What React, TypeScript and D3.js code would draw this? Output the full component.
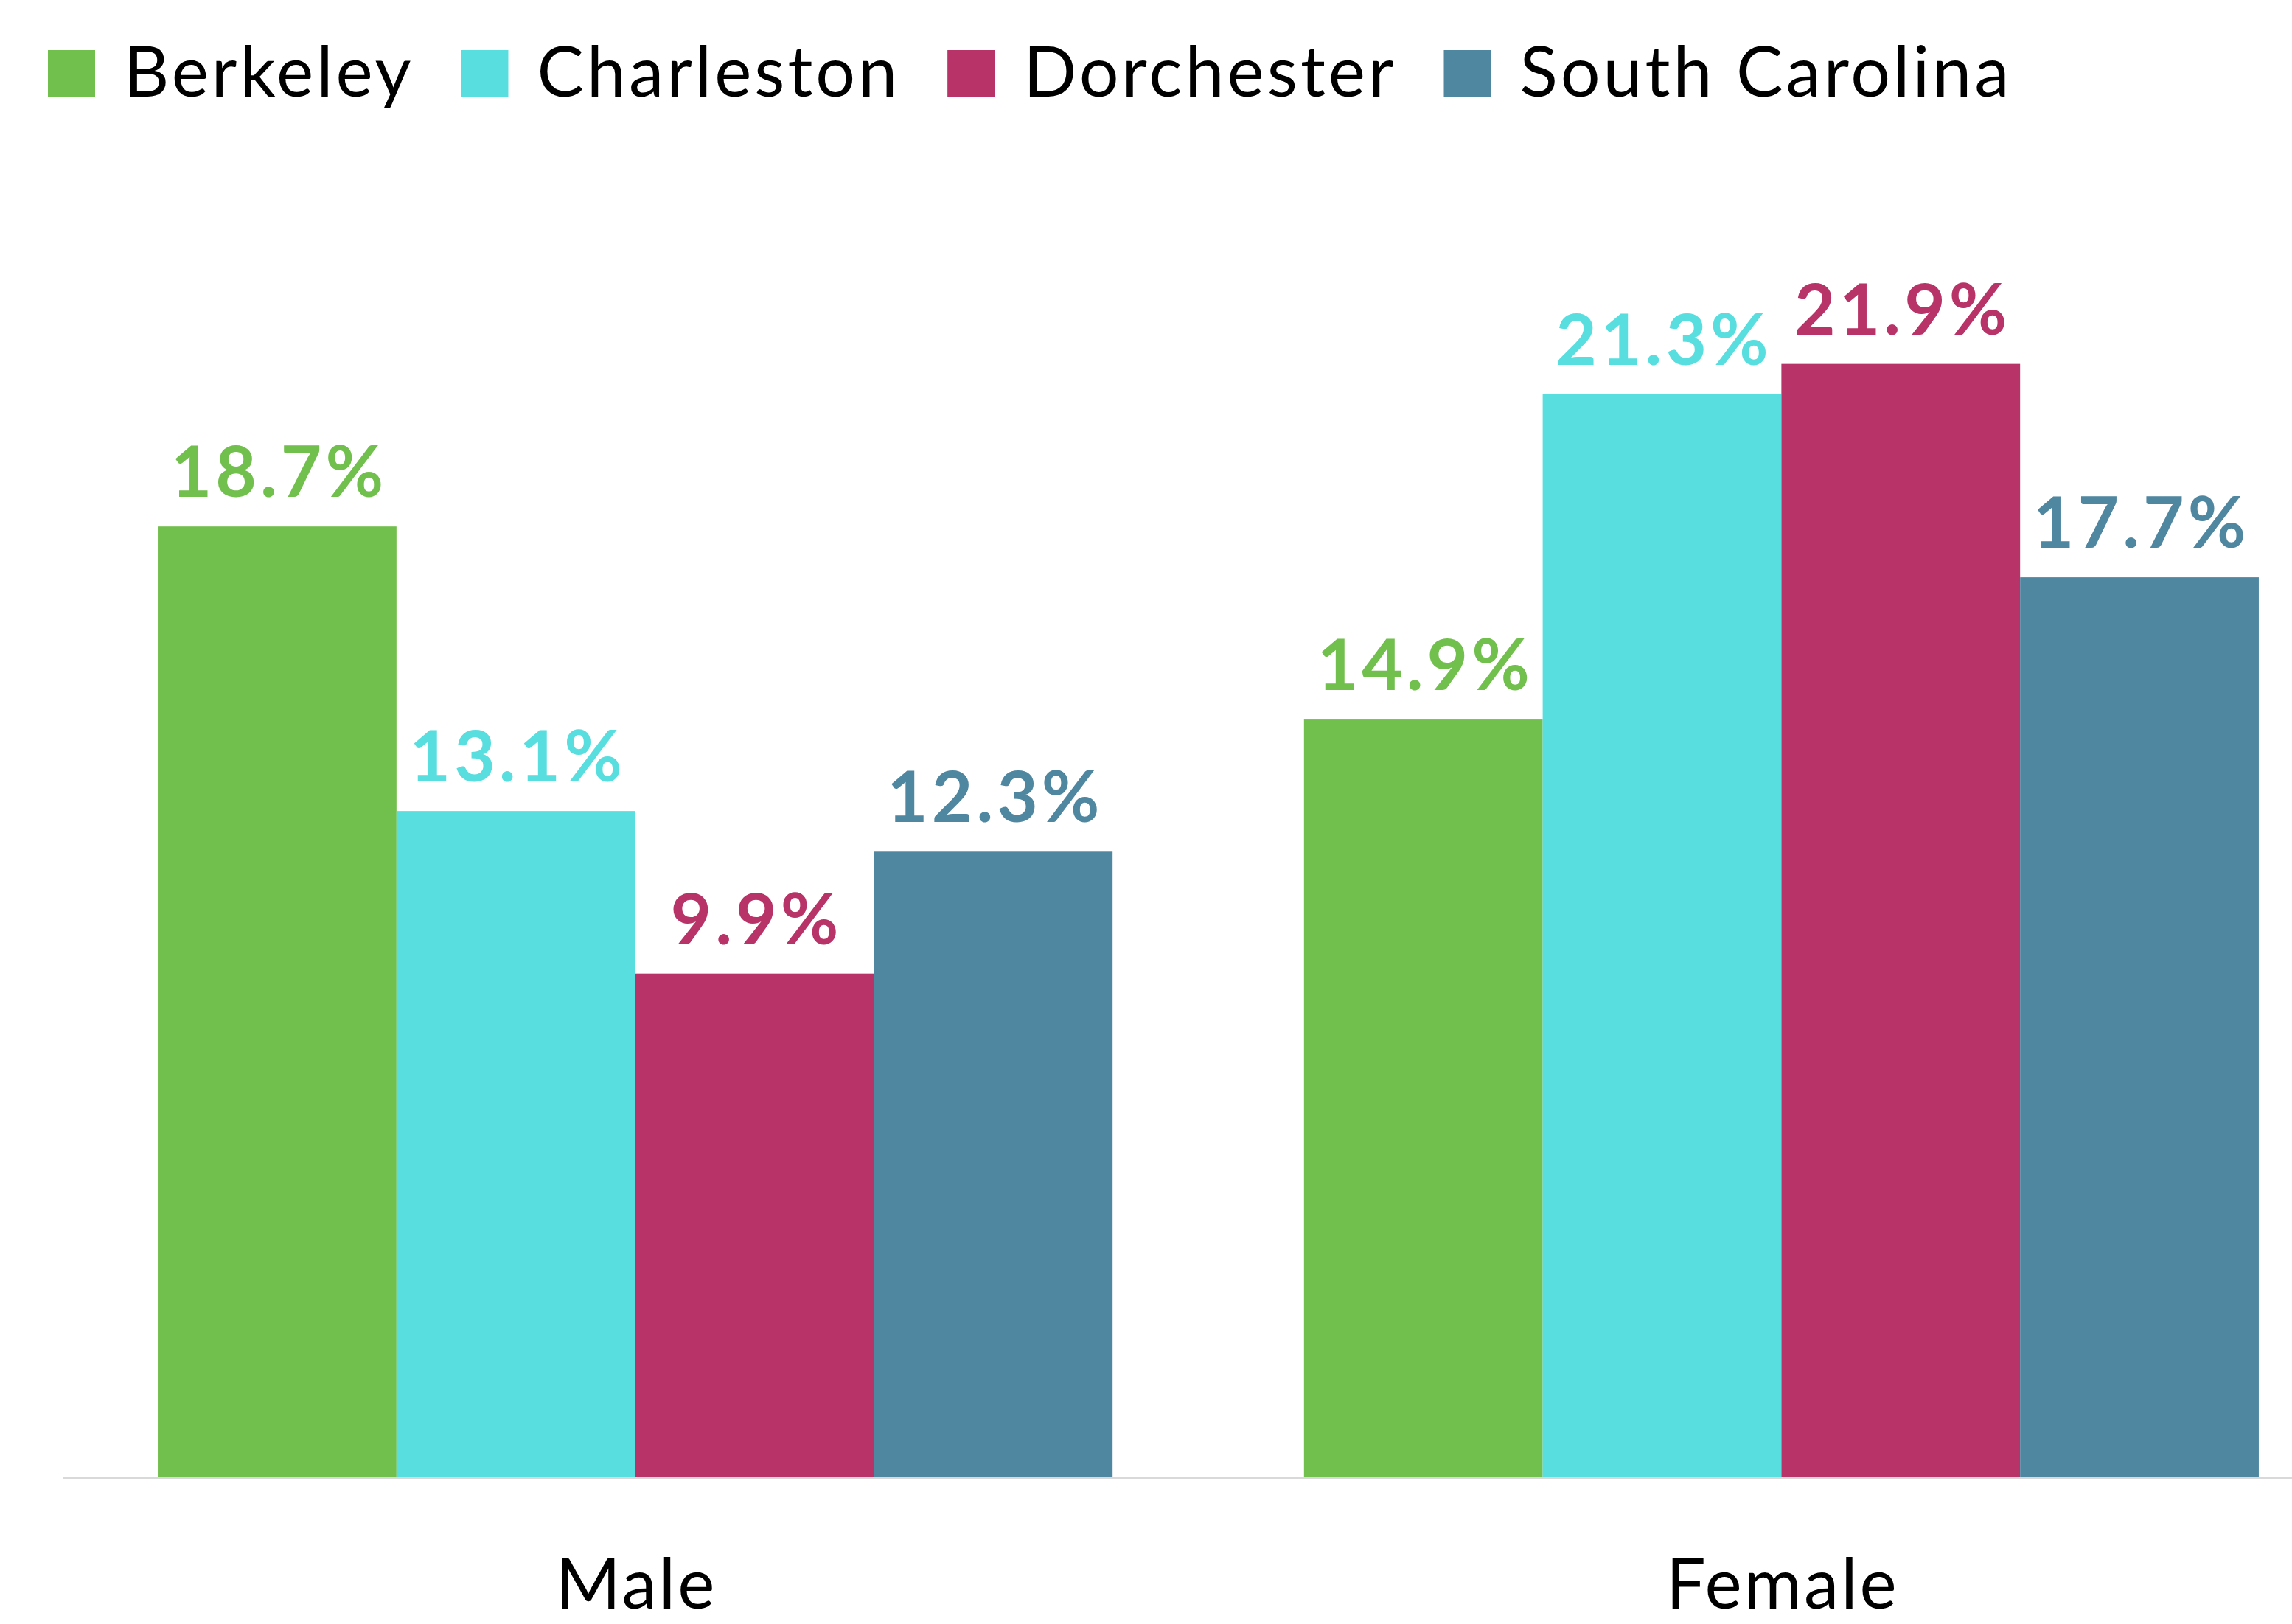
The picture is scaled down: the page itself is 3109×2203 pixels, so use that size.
import React from "react";
import * as d3 from "d3";

const groups = ["Male", "Female"];
const seriesNames = ["Berkeley", "Charleston", "Dorchester", "South Carolina"];
const colors = ["#71bf4c", "#59dee0", "#b83367", "#4f87a1"];
const berkeley = [18.7, 14.9];
const charleston = [13.1, 21.3];
const dorchester = [9.9, 21.9];
const southCarolina = [12.3, 17.7];

const W = 3109;
const H = 2203;

const App: React.FC = () => {
  const svgRef = React.useRef<SVGSVGElement>(null);

  React.useEffect(() => {
    if (!svgRef.current) return;
    const svg = d3.select(svgRef.current);
    svg.selectAll("*").remove();

    const series = [berkeley, charleston, dorchester, southCarolina];
    const baseY = 2003;
    const font = "Lato, 'Noto Sans', sans-serif";

    const x0 = d3
      .scaleBand<string>()
      .domain(groups)
      .range([85, 3193])
      .paddingInner(0.167)
      .paddingOuter(0.083);
    const x1 = d3
      .scaleBand<string>()
      .domain(seriesNames)
      .range([0, x0.bandwidth()]);
    const y = d3.scaleLinear().domain([0, 25]).range([baseY, 280]);

    // baseline
    svg
      .append("line")
      .attr("x1", 85)
      .attr("x2", W)
      .attr("y1", baseY + 1.5)
      .attr("y2", baseY + 1.5)
      .attr("stroke", "#d9d9d9")
      .attr("stroke-width", 3);

    const g = svg
      .selectAll("g.group")
      .data(groups)
      .join("g")
      .attr("class", "group")
      .attr("transform", d => `translate(${x0(d)},0)`);

    seriesNames.forEach((name, si) => {
      g.append("rect")
        .attr("x", () => x1(name)!)
        .attr("width", x1.bandwidth())
        .attr("y", (_, gi) => y(series[si][gi]))
        .attr("height", (_, gi) => baseY - y(series[si][gi]))
        .attr("fill", colors[si]);
      // value labels (letter-spacing adds trailing space, so nudge right)
      g.append("text")
        .attr("x", () => x1(name)! + x1.bandwidth() / 2 + 2.5)
        .attr("y", (_, gi) => y(series[si][gi]) - 40)
        .attr("text-anchor", "middle")
        .style("font-family", font)
        .style("font-weight", 700)
        .style("font-size", "96px")
        .style("letter-spacing", "5px")
        .style("fill", colors[si])
        .text((_, gi) => `${series[si][gi]}%`);
    });

    // category labels
    svg
      .selectAll("text.cat")
      .data(groups)
      .join("text")
      .attr("class", "cat")
      .attr("x", d => x0(d)! + x0.bandwidth() / 2 + 1.5)
      .attr("y", 2182)
      .attr("text-anchor", "middle")
      .style("font-family", font)
      .style("font-size", "95px")
      .style("letter-spacing", "3px")
      .style("fill", "#000")
      .text(d => d);

    // Legend
    const legend = svg.append("g").attr("transform", "translate(65, 0)");
    let cx = 0;
    seriesNames.forEach((name, i) => {
      const row = legend.append("g").attr("transform", `translate(${cx},0)`);
      row
        .append("rect")
        .attr("y", 68)
        .attr("width", 64)
        .attr("height", 64)
        .attr("fill", colors[i]);
      const t = row
        .append("text")
        .attr("x", 103)
        .attr("y", 131)
        .style("font-family", font)
        .style("font-size", "95px")
        .style("letter-spacing", "4px")
        .style("fill", "#000")
        .text(name);
      const w = t.node()?.getComputedTextLength() ?? 0;
      cx += 103 + w + 64;
    });
  }, []);

  return (
    <svg
      ref={svgRef}
      width={W}
      height={H}
      style={{ position: "absolute", left: 0, top: 0, background: "#fff" }}
    />
  );
};

export default App;
